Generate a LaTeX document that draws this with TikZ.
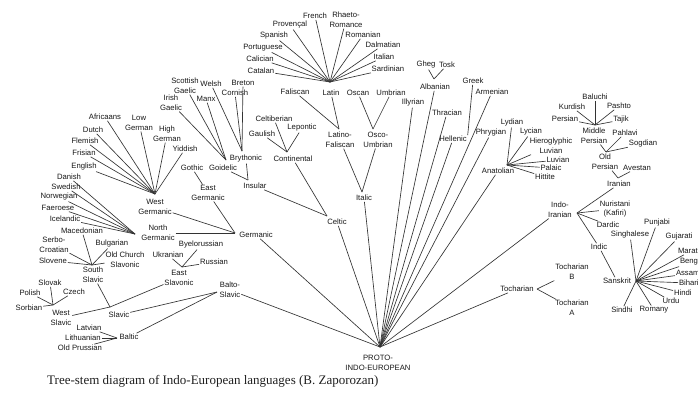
\documentclass[tikz,border=0pt]{standalone}
\usepackage{fontspec}
\setmainfont{Liberation Sans}
\newfontfamily\capfont{Liberation Serif}
\begin{document}
\begin{tikzpicture}[x=1pt,y=-1pt,
  lbl/.style={font=\fontsize{7.7}{9.6}\selectfont, inner sep=0.8pt, align=center, text=black!90},
  conn/.style={draw=black!80, line width=0.65pt},
  captxt/.style={font=\capfont\fontsize{13}{15}\selectfont, inner sep=0pt, text=black!88, anchor=west}]
\useasboundingbox (0,0) rectangle (698,400);
\fill[white] (0,0) rectangle (698,400);

% ---------- junctions ----------
\coordinate (wgJ) at (155,194);
\coordinate (ngJ) at (135,234);
\coordinate (gerJ) at (235,233);
\coordinate (ssJ) at (92,265);
\coordinate (wsJ) at (53,305);
\coordinate (slJ) at (110,307);
\coordinate (esJ) at (182,267);
\coordinate (baJ) at (117,338);
\coordinate (bsJ) at (217,292);
\coordinate (goJ) at (226,160);
\coordinate (brJ) at (242,151);
\coordinate (inJ) at (248,180);
\coordinate (coJ) at (287,152);
\coordinate (ceJ) at (327,216);
\coordinate (rJ) at (330,82);
\coordinate (lfJ) at (339,129);
\coordinate (ouJ) at (373,129);
\coordinate (itJ) at (362,192);
\coordinate (alJ) at (434,79);
\coordinate (anJ) at (507,165);
\coordinate (mpJ) at (595,125);
\coordinate (opJ) at (606,152);
\coordinate (irJ) at (618,178);
\coordinate (iiJ) at (577,213);
\coordinate (saJ) at (636,281);
\coordinate (toJ) at (537,289);
\coordinate (pieJ) at (380,347);

% ---------- Germanic ----------
\node[lbl] (africaans) at (105,117) {Africaans};
\node[lbl] (lowg) at (139,123) {Low\\German};
\node[lbl] (highg) at (167,134) {High\\German};
\node[lbl] (yiddish) at (185,149) {Yiddish};
\node[lbl] (dutch) at (93,130) {Dutch};
\node[lbl] (flemish) at (85,141) {Flemish};
\node[lbl] (frisian) at (84,153) {Frisian};
\node[lbl] (english) at (84,167) {English};
\node[lbl] (westg) at (155,207) {West\\Germanic};
\node[lbl] (danish) at (69,177) {Danish};
\node[lbl] (swedish) at (66,187) {Swedish};
\node[lbl] (norwegian) at (59,197) {Norwegian};
\node[lbl] (faeroese) at (58,208) {Faeroese};
\node[lbl] (icelandic) at (65,219) {Icelandic};
\node[lbl] (northg) at (158,233) {North\\Germanic};
\node[lbl] (gothic) at (192,168) {Gothic};
\node[lbl] (eastg) at (208,193) {East\\Germanic};
\node[lbl] (germanic) at (256,235) {Germanic};

% ---------- Balto-Slavic ----------
\node[lbl] (macedonian) at (82,231) {Macedonian};
\node[lbl] (serbo) at (54,245) {Serbo-\\Croatian};
\node[lbl] (slovene) at (53,261) {Slovene};
\node[lbl] (bulgarian) at (112,244) {Bulgarian};
\node[lbl] (ochurch) at (125,260) {Old Church\\Slavonic};
\node[lbl] (southsl) at (93,275) {South\\Slavic};
\node[lbl] (slovak) at (50,283) {Slovak};
\node[lbl] (czech) at (74,292) {Czech};
\node[lbl] (polish) at (30,293) {Polish};
\node[lbl] (sorbian) at (29,308) {Sorbian};
\node[lbl] (westsl) at (61,318) {West\\Slavic};
\node[lbl] (slavic) at (119,315) {Slavic};
\node[lbl] (ukranian) at (168,255) {Ukranian};
\node[lbl] (byelo) at (201,245) {Byelorussian};
\node[lbl] (russian) at (214,262) {Russian};
\node[lbl] (eastsl) at (179,278) {East\\Slavonic};
\node[lbl] (latvian) at (89,328) {Latvian};
\node[lbl] (lithuanian) at (83,338) {Lithuanian};
\node[lbl] (oprussian) at (80,348) {Old Prussian};
\node[lbl] (baltic) at (129,337) {Baltic};
\node[lbl] (baltoslavic) at (230,290) {Balto-\\Slavic};

% ---------- Celtic ----------
\node[lbl] (scottish) at (185,86) {Scottish\\Gaelic};
\node[lbl] (welsh) at (211,84) {Welsh};
\node[lbl] (breton) at (243,83) {Breton};
\node[lbl] (irish) at (171,103) {Irish\\Gaelic};
\node[lbl] (manx) at (206,99) {Manx};
\node[lbl] (cornish) at (235,93) {Cornish};
\node[lbl] (goidelic) at (223,168) {Goidelic};
\node[lbl] (brythonic) at (246,159) {Brythonic};
\node[lbl] (insular) at (255,186) {Insular};
\node[lbl] (celtiberian) at (274,119) {Celtiberian};
\node[lbl] (lepontic) at (302,128) {Lepontic};
\node[lbl] (gaulish) at (262,134) {Gaulish};
\node[lbl] (continental) at (293,159) {Continental};
\node[lbl] (celtic) at (337,222) {Celtic};

% ---------- Italic ----------
\node[lbl] (french) at (315,16) {French};
\node[lbl] (rhaeto) at (346,20) {Rhaeto-\\Romance};
\node[lbl] (provencal) at (290,25) {Provençal};
\node[lbl] (spanish) at (274,36) {Spanish};
\node[lbl] (romanian) at (363,35) {Romanian};
\node[lbl] (portuguese) at (263,48) {Portuguese};
\node[lbl] (dalmatian) at (383,45) {Dalmatian};
\node[lbl] (calician) at (260,59) {Calician};
\node[lbl] (italian) at (384,57) {Italian};
\node[lbl] (catalan) at (261,71) {Catalan};
\node[lbl] (sardinian) at (388,69) {Sardinian};
\node[lbl] (faliscan) at (295,92) {Faliscan};
\node[lbl] (latin) at (331,93) {Latin};
\node[lbl] (oscan) at (358,93) {Oscan};
\node[lbl] (umbrian) at (391,93) {Umbrian};
\node[lbl] (latfal) at (340,140) {Latino-\\Faliscan};
\node[lbl] (oscumb) at (378,140) {Osco-\\Umbrian};
\node[lbl] (italic) at (364,198) {Italic};

% ---------- middle branches ----------
\node[lbl] (gheg) at (426,65) {Gheg};
\node[lbl] (tosk) at (447,65) {Tosk};
\node[lbl] (albanian) at (435,87) {Albanian};
\node[lbl] (greek) at (473,81) {Greek};
\node[lbl] (armenian) at (492,92) {Armenian};
\node[lbl] (illyrian) at (413,103) {Illyrian};
\node[lbl] (thracian) at (447,113) {Thracian};
\node[lbl] (hellenic) at (453,139) {Hellenic};
\node[lbl] (phrygian) at (491,133) {Phrygian};

% ---------- Anatolian ----------
\node[lbl] (lydian) at (512,123) {Lydian};
\node[lbl] (lycian) at (531,132) {Lycian};
\node[lbl] (hierol) at (551,146) {Hieroglyphic\\Luvian};
\node[lbl] (luvian) at (558,160) {Luvian};
\node[lbl] (palaic) at (551,168) {Palaic};
\node[lbl] (hittite) at (545,177) {Hittite};
\node[lbl] (anatolian) at (498,171) {Anatolian};

% ---------- Indo-Iranian ----------
\node[lbl] (baluchi) at (595,97) {Baluchi};
\node[lbl] (kurdish) at (572,107) {Kurdish};
\node[lbl] (pashto) at (619,106) {Pashto};
\node[lbl] (persian) at (565,119) {Persian};
\node[lbl] (tajik) at (621,120) {Tajik};
\node[lbl] (midpers) at (594,136) {Middle\\Persian};
\node[lbl] (pahlavi) at (625,133) {Pahlavi};
\node[lbl] (sogdian) at (643,144) {Sogdian};
\node[lbl] (oldpers) at (605,162) {Old\\Persian};
\node[lbl] (avestan) at (637,168) {Avestan};
\node[lbl] (iranian) at (619,184) {Iranian};
\node[lbl] (indoir) at (560,210) {Indo-\\Iranian};
\node[lbl] (nuristani) at (615,209) {Nuristani\\(Kafiri)};
\node[lbl] (dardic) at (608,225) {Dardic};
\node[lbl] (indic) at (599,247) {Indic};
\node[lbl] (sanskrit) at (617,281) {Sanskrit};
\node[lbl] (singhalese) at (630,235) {Singhalese};
\node[lbl] (punjabi) at (657,223) {Punjabi};
\node[lbl] (gujarati) at (679,237) {Gujarati};
\node[lbl,anchor=west] (marathi) at (677,251) {Marathi};
\node[lbl,anchor=west] (bengali) at (679,262) {Bengali};
\node[lbl,anchor=west] (assamese) at (675,273) {Assamese};
\node[lbl,anchor=west] (bihari) at (678,283) {Bihari};
\node[lbl,anchor=west] (hindi) at (673,293) {Hindi};
\node[lbl] (urdu) at (671,301) {Urdu};
\node[lbl] (romany) at (654,310) {Romany};
\node[lbl] (sindhi) at (622,310) {Sindhi};

% ---------- Tocharian ----------
\node[lbl] (tochar) at (517,289) {Tocharian};
\node[lbl] (tochB) at (572,272) {Tocharian\\B};
\node[lbl] (tochA) at (572,308) {Tocharian\\A};

% ---------- root ----------
\node[lbl] (pie) at (378,363) {PROTO-\\INDO-EUROPEAN};
\node[captxt] (caption) at (47,381) {Tree-stem diagram of Indo-European languages (B. Zaporozan)};

% ---------- connectors ----------
\foreach \c in {africaans,lowg,highg,yiddish,dutch,flemish,frisian,english} \draw[conn] (\c) -- (wgJ);
\foreach \c in {danish,swedish,norwegian,faeroese,icelandic} \draw[conn] (\c) -- (ngJ);
\draw[conn] (gothic) -- (eastg);
\foreach \c in {westg,northg,eastg} \draw[conn] (\c) -- (gerJ);

\foreach \c in {macedonian,serbo,slovene,bulgarian,ochurch} \draw[conn] (\c) -- (ssJ);
\foreach \c in {slovak,czech,polish,sorbian} \draw[conn] (\c) -- (wsJ);
\foreach \c in {ukranian,byelo,russian} \draw[conn] (\c) -- (esJ);
\foreach \c in {southsl,westsl,eastsl} \draw[conn] (\c) -- (slJ);
\foreach \c in {latvian,lithuanian,oprussian} \draw[conn] (\c) -- (baJ);
\foreach \c in {slavic,baltic} \draw[conn] (\c) -- (bsJ);

\foreach \c in {scottish,irish,manx} \draw[conn] (\c) -- (goJ);
\foreach \c in {welsh,cornish,breton} \draw[conn] (\c) -- (brJ);
\foreach \c in {goidelic,brythonic} \draw[conn] (\c) -- (inJ);
\foreach \c in {celtiberian,lepontic,gaulish} \draw[conn] (\c) -- (coJ);
\foreach \c in {insular,continental} \draw[conn] (\c) -- (ceJ);

\foreach \c in {french,rhaeto,provencal,spanish,romanian,portuguese,dalmatian,calician,italian,catalan,sardinian} \draw[conn] (\c) -- (rJ);
\foreach \c in {faliscan,latin} \draw[conn] (\c) -- (lfJ);
\foreach \c in {oscan,umbrian} \draw[conn] (\c) -- (ouJ);
\foreach \c in {latfal,oscumb} \draw[conn] (\c) -- (itJ);

\foreach \c in {gheg,tosk} \draw[conn] (\c) -- (alJ);
\draw[conn] (greek) -- (hellenic.north east);

\foreach \c in {lydian,lycian,hierol,luvian,palaic,hittite} \draw[conn] (\c) -- (anJ);

\foreach \c in {baluchi,kurdish,pashto,persian,tajik} \draw[conn] (\c) -- (mpJ);
\foreach \c in {midpers,pahlavi,sogdian} \draw[conn] (\c) -- (opJ);
\foreach \c in {oldpers,avestan} \draw[conn] (\c) -- (irJ);
\foreach \c in {iranian,nuristani,dardic,indic} \draw[conn] (\c) -- (iiJ);
\draw[conn] (indic) -- (sanskrit);
\foreach \c in {singhalese,punjabi,gujarati,marathi,bengali,assamese,bihari,hindi,urdu,romany,sindhi} \draw[conn] (\c) -- (saJ);

\foreach \c in {tochB,tochA} \draw[conn] (\c) -- (toJ);

\foreach \c in {baltoslavic,germanic,celtic,italic,illyrian,albanian,thracian,hellenic,armenian,phrygian,anatolian,indoir,tochar} \draw[conn] (\c) -- (pieJ);
\end{tikzpicture}
\end{document}
